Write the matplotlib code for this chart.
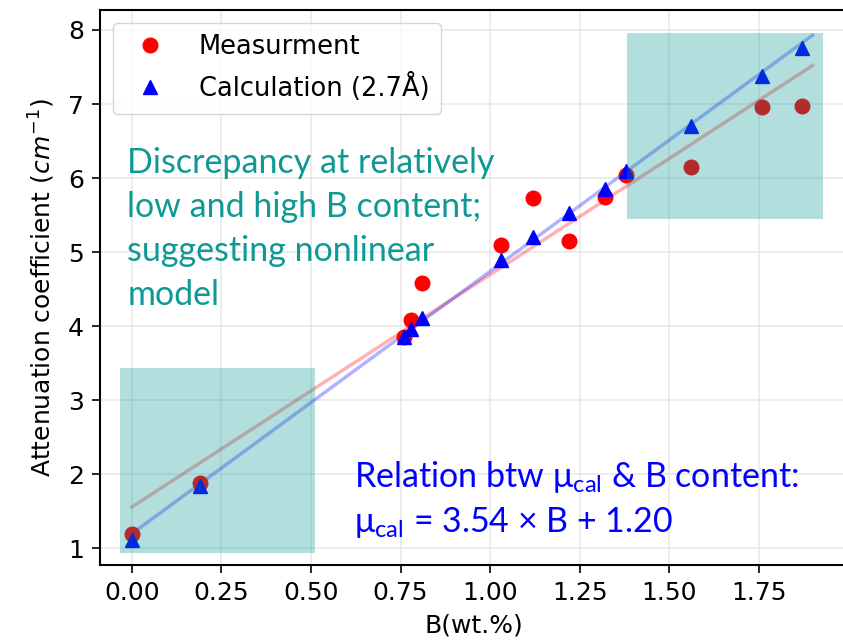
"""Attenuation coefficient vs boron content: measurement vs calculation."""

import matplotlib

matplotlib.use("Agg")
import matplotlib.pyplot as plt  # noqa: E402
from matplotlib.patches import Rectangle  # noqa: E402

# ----------------------------------------------------------------------------
# Data
# ----------------------------------------------------------------------------
b_content = [0.00, 0.19, 0.76, 0.78, 0.81, 1.03, 1.12, 1.22, 1.32, 1.38, 1.56, 1.76, 1.87]
mu_meas = [1.20, 1.89, 3.86, 4.08, 4.58, 5.10, 5.73, 5.15, 5.74, 6.04, 6.15, 6.96, 6.98]
mu_calc = [1.11, 1.84, 3.85, 3.96, 4.11, 4.89, 5.21, 5.53, 5.85, 6.09, 6.70, 7.38, 7.76]

# linear fits drawn in the original (end points)
fit_x = [0.0, 1.9]
fit_meas = [1.56, 7.52]
fit_calc = [1.20, 7.93]

# highlighted regions: (x0, y0, width, height) in data units
low_box = (-0.032, 0.935, 0.542, 2.505)
high_box = (1.383, 5.45, 0.545, 2.51)

TEAL = "#0f9994"
BLUE_TXT = "#0000ff"
NOTE_FONT = ["Lato", "DejaVu Sans"]

# ----------------------------------------------------------------------------
# Plot
# ----------------------------------------------------------------------------
fig = plt.figure(figsize=(8.43, 6.43), dpi=100)
ax = fig.add_axes([100 / 843, (643 - 565) / 643, (848 - 100) / 843, (565 - 10) / 643])

ax.plot(b_content, mu_meas, "o", color="red", ms=10.5, label="Measurment", zorder=3)
ax.plot(b_content, mu_calc, "^", color="blue", ms=10.5, label="Calculation (2.7Å)", zorder=3)
ax.plot(fit_x, fit_meas, color="red", lw=2.5, alpha=0.3, zorder=2)
ax.plot(fit_x, fit_calc, color="blue", lw=2.5, alpha=0.3, zorder=2)

for x0, y0, w, h in (low_box, high_box):
    ax.add_patch(Rectangle((x0, y0), w, h, facecolor=(0, 0.58, 0.58), alpha=0.3,
                           edgecolor="none", zorder=4))

ax.set_xlim(-0.089, 1.999)
ax.set_ylim(0.777, 8.27)
ax.set_xticks([0, 0.25, 0.5, 0.75, 1.0, 1.25, 1.5, 1.75])
ax.set_xticklabels(["0.00", "0.25", "0.50", "0.75", "1.00", "1.25", "1.50", "1.75"])
ax.set_yticks(range(1, 9))
ax.tick_params(labelsize=18, length=5.5, width=1.2, pad=6)
ax.grid(True, color="#dddddd", alpha=0.6, lw=1.2)
for sp in ax.spines.values():
    sp.set_linewidth(1.5)
ax.set_xlabel("B(wt.%)", fontsize=18, labelpad=6)
ax.set_ylabel("Attenuation coefficient ($cm^{-1}$)", fontsize=18, labelpad=8)

ax.legend(loc="upper left", fontsize=18.5, borderpad=0.45, labelspacing=0.5,
          handletextpad=0.9, borderaxespad=0.0, bbox_to_anchor=(0.017, 0.977))

ax.text(-0.013, 4.286, "Discrepancy at relatively\nlow and high B content;\n"
        "suggesting nonlinear\nmodel", color=TEAL, fontsize=24.5,
        family=NOTE_FONT, va="baseline", linespacing=1.46)
ax.text(0.62, 1.834, "Relation btw μ$\\mathregular{_{cal}}$ & B content:",
        color=BLUE_TXT, fontsize=24.5, family=NOTE_FONT, va="baseline")
ax.text(0.62, 1.227, "μ$\\mathregular{_{cal}}$ = 3.54 × B + 1.20",
        color=BLUE_TXT, fontsize=24.5, family=NOTE_FONT, va="baseline")

fig.savefig("out.png", dpi=100)
